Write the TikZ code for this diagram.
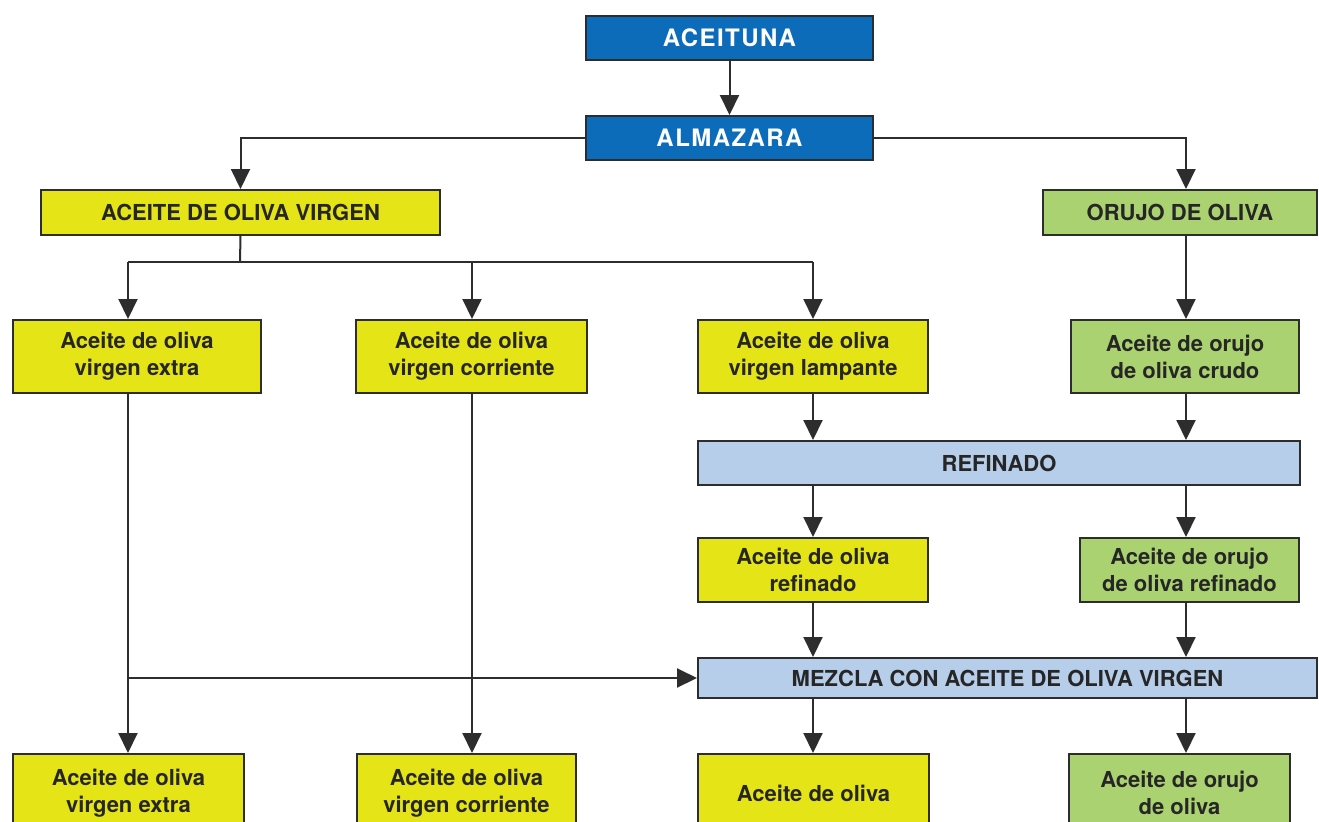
\documentclass[tikz,border=0pt]{standalone}
\usepackage{fontspec}
\setmainfont{TeX Gyre Heros}
\usetikzlibrary{arrows.meta,calc}
\definecolor{cblue}{RGB}{12,108,186}
\definecolor{cyellow}{RGB}{228,228,22}
\definecolor{cgreen}{RGB}{170,210,112}
\definecolor{clblue}{RGB}{182,206,234}
\definecolor{cline}{RGB}{45,45,45}
\begin{document}
\begin{tikzpicture}[x=0.5pt,y=-0.5pt,
  box/.style={draw=cline,line width=1pt,rectangle,inner sep=0pt,align=center,
     font=\fontsize{11}{13.5}\selectfont\bfseries,text=black!85},
  bluebox/.style={box,fill=cblue,text=white,font=\fontsize{12}{14}\selectfont\bfseries\addfontfeature{LetterSpace=6}},
  ybox/.style={box,fill=cyellow},
  gbox/.style={box,fill=cgreen},
  lbbox/.style={box,fill=clblue},
  conn/.style={draw=cline,line width=1pt},
  arr/.style={conn,-{Triangle[width=9.5pt,length=10pt]}}]
\useasboundingbox (0,0) rectangle (1319,821);
\fill[white] (0,0) rectangle (1319,821);
\clip (0,0) rectangle (1319,821);
% column coordinates
\coordinate (colA) at (128,0);
\coordinate (colB) at (472,0);
\coordinate (colC) at (813,0);
\coordinate (colD) at (1186,0);
\coordinate (split) at (240,262);
% nodes
\node[bluebox,minimum width=143.5pt,minimum height=22pt] (aceituna) at (729.5,38) {ACEITUNA};
\node[bluebox,minimum width=143.5pt,minimum height=22pt] (almazara) at (729.5,138) {ALMAZARA};
\node[ybox,minimum width=199.5pt,minimum height=22.5pt] (aov) at (240.5,212.5) {ACEITE DE OLIVA VIRGEN};
\node[gbox,minimum width=137pt,minimum height=22.5pt] (orujo) at (1180,212.5) {ORUJO DE OLIVA};
\node[ybox,minimum width=124pt,minimum height=36.5pt] (r3a) at (137,356.5) {Aceite de oliva\\virgen extra};
\node[ybox,minimum width=115.5pt,minimum height=36.5pt] (r3b) at (471.5,356.5) {Aceite de oliva\\virgen corriente};
\node[ybox,minimum width=115pt,minimum height=36.5pt] (r3c) at (813,356.5) {Aceite de oliva\\virgen lampante};
\node[gbox,minimum width=114pt,minimum height=36.5pt] (r3d) at (1185,356.5) {Aceite de orujo\\de oliva crudo};
\node[lbbox,minimum width=301pt,minimum height=22pt] (refinado) at (999,463) {REFINADO};
\node[ybox,minimum width=115pt,minimum height=32pt] (r5c) at (813,570) {Aceite de oliva\\refinado};
\node[gbox,minimum width=109.5pt,minimum height=32pt] (r5d) at (1189.5,570) {Aceite de orujo\\de oliva refinado};
\node[lbbox,minimum width=309.5pt,minimum height=20pt] (mezcla) at (1007.5,678) {MEZCLA CON ACEITE DE OLIVA VIRGEN};
\node[ybox,minimum width=115.5pt,minimum height=39pt] (b1) at (128.5,793) {Aceite de oliva\\virgen extra};
\node[ybox,minimum width=109.5pt,minimum height=39pt] (b2) at (466.5,793) {Aceite de oliva\\virgen corriente};
\node[ybox,minimum width=115.5pt,minimum height=39pt] (b3) at (813.5,793) {Aceite de oliva};
\node[gbox,minimum width=110.5pt,minimum height=39pt] (b4) at (1179.5,793) {Aceite de orujo\\de oliva};
% connectors
\draw[arr] (aceituna.south) -- (almazara.north);
\draw[arr] (almazara.west) -| (aov.north);
\draw[arr] (almazara.east) -| (colD |- orujo.north);
\draw[conn] (aov.south) -- (split);
\draw[conn] (colA |- split) -- (colC |- split);
\draw[arr] (colA |- split) -- (colA |- r3a.north);
\draw[arr] (colB |- split) -- (colB |- r3b.north);
\draw[arr] (colC |- split) -- (colC |- r3c.north);
\draw[arr] (colD |- orujo.south) -- (colD |- r3d.north);
\draw[arr] (colC |- r3c.south) -- (colC |- refinado.north);
\draw[arr] (colD |- r3d.south) -- (colD |- refinado.north);
\draw[arr] (colC |- refinado.south) -- (colC |- r5c.north);
\draw[arr] (colD |- refinado.south) -- (colD |- r5d.north);
\draw[arr] (colC |- r5c.south) -- (colC |- mezcla.north);
\draw[arr] (colD |- r5d.south) -- (colD |- mezcla.north);
\draw[arr] (colC |- mezcla.south) -- (colC |- b3.north);
\draw[arr] (colD |- mezcla.south) -- (colD |- b4.north);
\draw[arr] (colA |- r3a.south) -- (colA |- b1.north);
\draw[arr] (colB |- r3b.south) -- (colB |- b2.north);
\draw[arr] (colA |- mezcla.west) -- (mezcla.west);
\end{tikzpicture}
\end{document}
